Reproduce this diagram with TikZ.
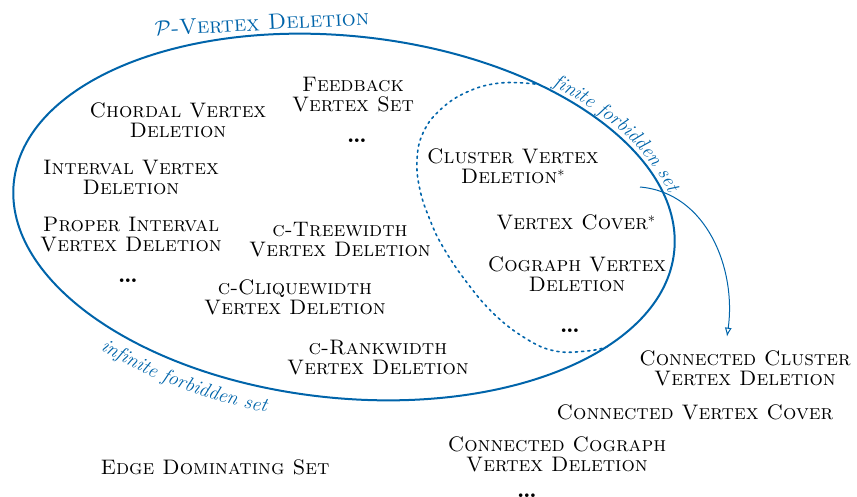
\documentclass[tikz,border=0pt]{standalone}
\usepackage{tikz}
\usetikzlibrary{decorations.text,arrows.meta}
\definecolor{myblue}{RGB}{0,100,170}
\begin{document}
\begin{tikzpicture}[x=1pt,y=1pt,
  lbl/.style={font=\fontsize{21}{20}\selectfont\scshape, align=center, inner sep=0pt},
  dotsnode/.style={font=\fontsize{25}{20}\selectfont\bfseries, inner sep=0pt, anchor=base},
  curvelbl/.style={myblue, decorate, decoration={text along path, text align=left,
     text={|\fontsize{20}{22}\selectfont\itshape\color{myblue}|#1}}}
]
\useasboundingbox (0,0) rectangle (857,-496);

% main ellipse
\draw[myblue, line width=2pt, rotate around={-6:(344,-217)}] (344,-217) ellipse[x radius=332, y radius=181];

% title
\node[lbl, font=\fontsize{22}{20}\selectfont\scshape, text=myblue, rotate=3] (title) at (262,-23) {$\mathcal{P}$-Vertex Deletion};

% curved labels
\path[rotate around={-6:(344,-217)}, curvelbl={finite forbidden set}]
  (344,-217) ++(55:337pt and 186pt) arc[start angle=55, end angle=0, x radius=337pt, y radius=186pt];
\path[rotate around={-6:(344,-217)}, curvelbl={infinite forbidden set}]
  (344,-217) ++(230:356pt and 205pt) arc[start angle=230, end angle=285, x radius=356pt, y radius=205pt];

% dotted region
\draw[myblue, line width=1.6pt, dash pattern=on 2.2pt off 4pt, line cap=round]
  plot[smooth, tension=0.7] coordinates {(535,-84) (500,-83) (467,-92) (440,-110) (423,-133) (417,-160) (420,-190) (430,-220) (443,-247) (465,-280) (493,-313) (525,-338) (555,-351) (587,-351) (607,-347)};

% labels inside
\node[lbl] (fvs) at (353,-95) {Feedback\\Vertex Set};
\node[dotsnode] (d1) at (357,-142) {\dots};
\node[lbl] (chordal) at (178,-120.5) {Chordal Vertex\\Deletion};
\node[lbl] (interval) at (131,-177.5) {Interval Vertex\\Deletion};
\node[lbl] (proper) at (131,-234.5) {Proper Interval\\Vertex Deletion};
\node[dotsnode] (d2) at (128,-282) {\dots};
\node[lbl] (tw) at (340,-239.5) {c-Treewidth\\Vertex Deletion};
\node[lbl] (cw) at (295,-297.5) {c-Cliquewidth\\Vertex Deletion};
\node[lbl] (rw) at (378,-357.5) {c-Rankwidth\\Vertex Deletion};
\node[lbl] (cvd) at (513,-166.5) {Cluster Vertex\\Deletion$^{*}$};
\node[lbl] (vc) at (576,-222.5) {Vertex Cover$^{*}$};
\node[lbl] (cog) at (577,-274.5) {Cograph Vertex\\Deletion};
\node[dotsnode] (d3) at (570,-332) {\dots};

% outside
\node[lbl] (ccvd) at (745,-368.5) {Connected Cluster\\Vertex Deletion};
\node[lbl] (cvc) at (695,-412.5) {Connected Vertex Cover};
\node[lbl] (ccog) at (557,-454.5) {Connected Cograph\\Vertex Deletion};
\node[dotsnode] (d4) at (527,-497) {\dots};
\node[lbl] (eds) at (215,-467.5) {Edge Dominating Set};

% arrow
\coordinate (as) at (640,-187);
\coordinate (ae) at ([xshift=-18,yshift=14]ccvd.north);
\draw[myblue, line width=1pt, -{Latex[open,length=9pt,width=7pt]}] (as) to[out=-5, in=82] (ae);
\end{tikzpicture}
\end{document}
